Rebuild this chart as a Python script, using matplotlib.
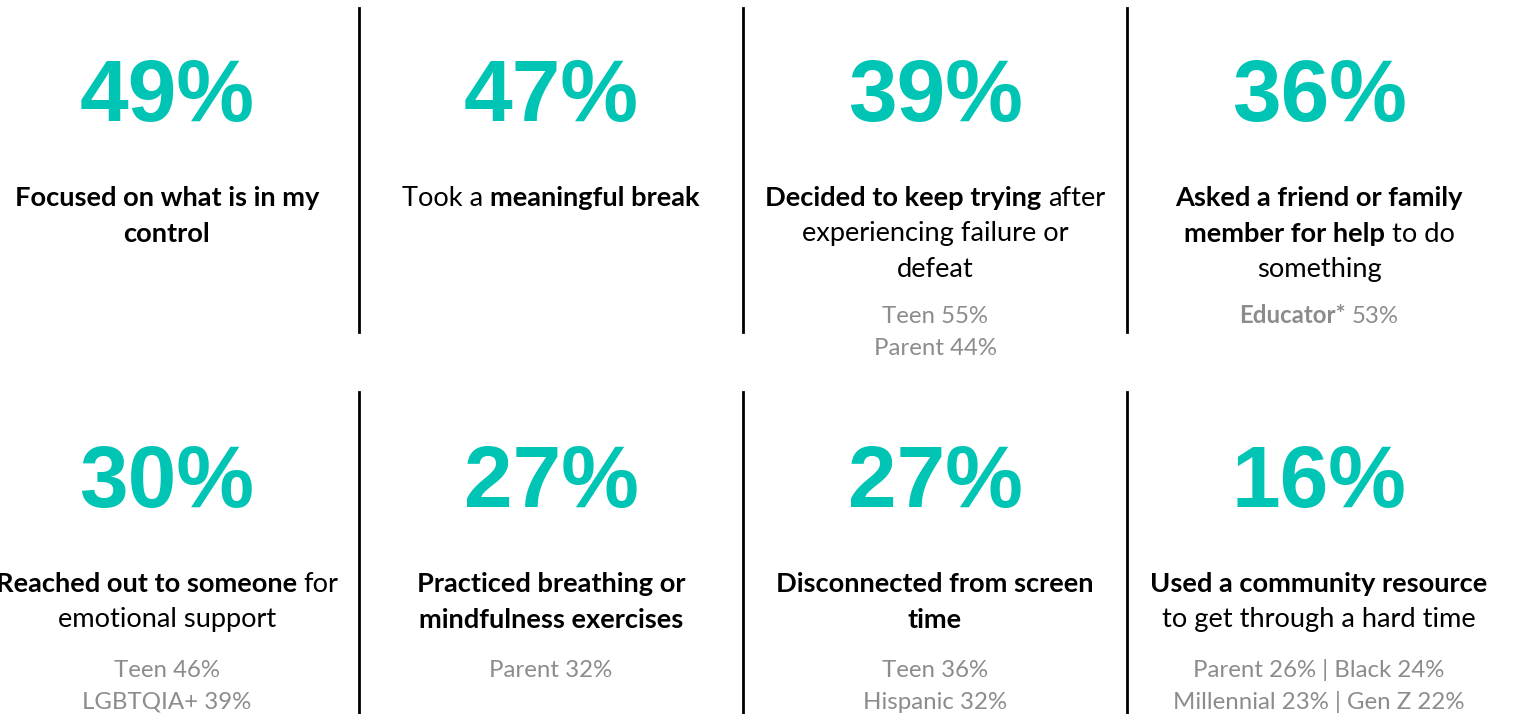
import matplotlib
matplotlib.use("Agg")
import matplotlib.pyplot as plt
from matplotlib.lines import Line2D

# ---- data ----
values = [49, 47, 39, 36, 30, 27, 27, 16]
# description lines: list of lines, each line is list of (text, bold) segments
descriptions = [
    [[("Focused on what is in my", True)], [("control", True)]],
    [[("Took a", False), ("meaningful break", True)]],
    [[("Decided to keep trying", True), ("after", False)],
     [("experiencing failure or", False)], [("defeat", False)]],
    [[("Asked a friend or family", True)],
     [("member for help", True), ("to do", False)], [("something", False)]],
    [[("Reached out to someone", True), ("for", False)], [("emotional support", False)]],
    [[("Practiced breathing or", True)], [("mindfulness exercises", True)]],
    [[("Disconnected from screen", True)], [("time", True)]],
    [[("Used a community resource", True)], [("to get through a hard time", False)]],
]
subgroups = [
    [],
    [],
    [[("Teen 55%", False)], [("Parent 44%", False)]],
    [[("Educator*", True), ("53%", False)]],
    [[("Teen 46%", False)], [("LGBTQIA+ 39%", False)]],
    [[("Parent 32%", False)]],
    [[("Teen 36%", False)], [("Hispanic 32%", False)]],
    [[("Parent 26% | Black 24%", False)], [("Millennial 23% | Gen Z 22%", False)]],
]

W, H = 1516, 714
TEAL = "#00C4B4"
GRAY = "#8C8C8C"
BODY_FONT = "Lato"

fig = plt.figure(figsize=(W / 100, H / 100), dpi=100)
fig.patch.set_facecolor("white")
ax = fig.add_axes([0, 0, 1, 1])
ax.set_xlim(0, W)
ax.set_ylim(H, 0)
ax.axis("off")

renderer = fig.canvas.get_renderer()

col_centers = [167, 551, 935, 1319]
row_num_base = [121, 507]
row_desc_base = [206, 592]
row_sub_base = [323, 677]
DESC_PITCH = 35.5
SUB_PITCH = 32
DESC_SIZE = 19.6
SUB_SIZE = 17.3

# separator lines
for x in [359, 743, 1127]:
    ax.add_line(Line2D([x, x], [8, 332], color="black", lw=2))
    ax.add_line(Line2D([x, x], [392, 714], color="black", lw=2))


def width_of(t):
    bb = t.get_window_extent(renderer=renderer)
    return bb.width


def draw_line(segs, cx, y, size, color):
    texts = []
    for s, b in segs:
        t = ax.text(0, y, s, fontsize=size, fontfamily=BODY_FONT,
                    fontweight="bold" if b else "normal", color=color,
                    ha="left", va="baseline")
        texts.append(t)
    probe = ax.text(0, 0, "a a", fontsize=size, fontfamily=BODY_FONT)
    probe2 = ax.text(0, 0, "aa", fontsize=size, fontfamily=BODY_FONT)
    sp = width_of(probe) - width_of(probe2)
    probe.remove(); probe2.remove()
    widths = [width_of(t) for t in texts]
    total = sum(widths) + sp * (len(texts) - 1)
    x = cx - total / 2
    for t, w in zip(texts, widths):
        t.set_x(x)
        x += w + sp


for i, v in enumerate(values):
    r, c = divmod(i, 4)
    cx = col_centers[c]
    ax.text(cx, row_num_base[r], f"{v}%", fontsize=63, fontfamily="Liberation Sans",
            fontweight="bold", color=TEAL, ha="center", va="baseline")
    for k, line in enumerate(descriptions[i]):
        draw_line(line, cx, row_desc_base[r] + k * DESC_PITCH, DESC_SIZE, "black")
    for k, line in enumerate(subgroups[i]):
        draw_line(line, cx, row_sub_base[r] + k * SUB_PITCH, SUB_SIZE, GRAY)

fig.savefig("out.png", dpi=100, facecolor="white")
